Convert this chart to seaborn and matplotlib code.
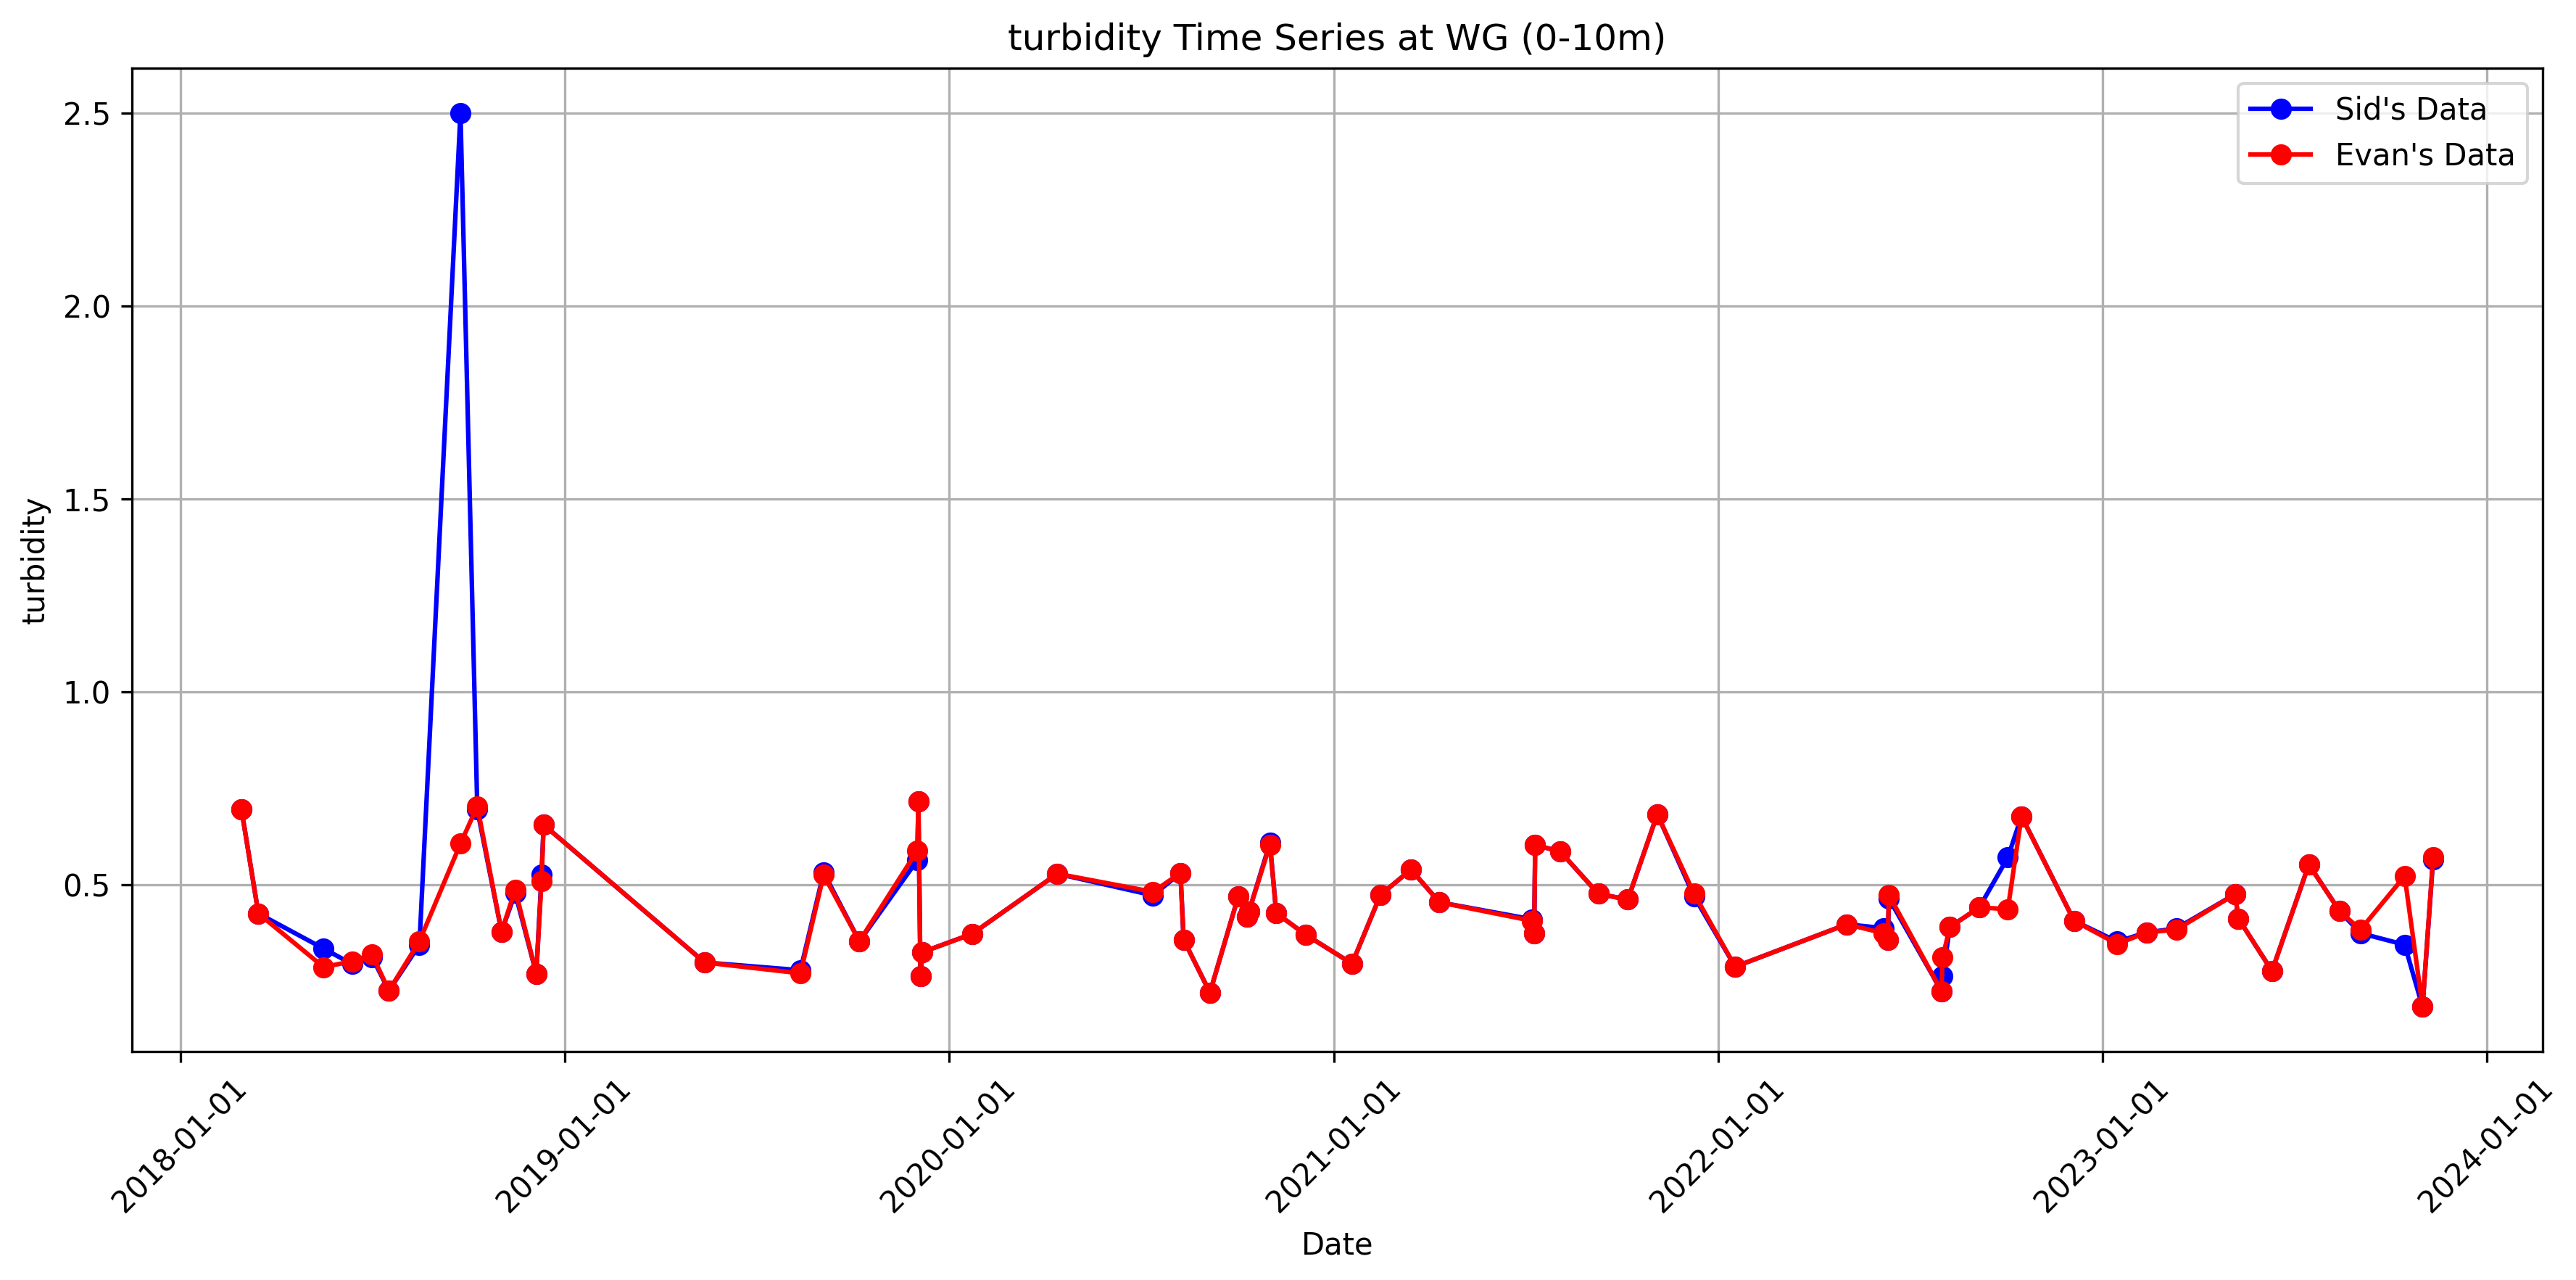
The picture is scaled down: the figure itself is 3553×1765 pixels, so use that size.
import matplotlib
matplotlib.use("Agg")
import matplotlib.pyplot as plt
import matplotlib.dates as mdates
import pandas as pd
import seaborn as sns

dates = [
    "2018-02-28", "2018-03-16", "2018-05-17", "2018-06-13", "2018-07-02",
    "2018-07-18", "2018-08-16", "2018-09-24", "2018-10-10", "2018-11-02",
    "2018-11-15", "2018-12-05", "2018-12-10", "2018-12-12", "2019-05-14",
    "2019-08-13", "2019-09-04", "2019-10-08", "2019-12-02", "2019-12-03",
    "2019-12-05", "2019-12-07", "2020-01-23", "2020-04-13", "2020-07-13",
    "2020-08-08", "2020-08-11", "2020-09-05", "2020-10-02", "2020-10-10",
    "2020-10-12", "2020-11-01", "2020-11-07", "2020-12-05", "2021-01-18",
    "2021-02-14", "2021-03-15", "2021-04-11", "2021-07-08", "2021-07-10",
    "2021-07-11", "2021-08-04", "2021-09-09", "2021-10-07", "2021-11-04",
    "2021-12-09", "2022-01-17", "2022-05-03", "2022-06-07", "2022-06-11",
    "2022-06-12", "2022-08-01", "2022-08-02", "2022-08-09", "2022-09-06",
    "2022-10-03", "2022-10-16", "2022-12-05", "2023-01-15", "2023-02-12",
    "2023-03-12", "2023-05-07", "2023-05-10", "2023-06-11", "2023-07-16",
    "2023-08-14", "2023-09-03", "2023-10-15", "2023-11-01", "2023-11-11",
]

sid_values = [
    0.694, 0.425, 0.334, 0.294, 0.312,
    0.225, 0.344, 2.500, 0.694, 0.378,
    0.478, 0.269, 0.525, 0.655, 0.298,
    0.278, 0.531, 0.353, 0.563, 0.716,
    0.262, 0.325, 0.372, 0.528, 0.472,
    0.530, 0.357, 0.220, 0.470, 0.416,
    0.430, 0.608, 0.426, 0.370, 0.295,
    0.473, 0.539, 0.454, 0.410, 0.374,
    0.603, 0.585, 0.476, 0.461, 0.682,
    0.469, 0.287, 0.397, 0.387, 0.357,
    0.464, 0.224, 0.262, 0.390, 0.441,
    0.570, 0.677, 0.406, 0.352, 0.376,
    0.386, 0.475, 0.412, 0.276, 0.552,
    0.432, 0.374, 0.344, 0.183, 0.565,
]

evan_values = [
    0.694, 0.425, 0.286, 0.301, 0.319,
    0.225, 0.353, 0.606, 0.703, 0.378,
    0.487, 0.269, 0.509, 0.655, 0.298,
    0.270, 0.525, 0.353, 0.588, 0.716,
    0.262, 0.325, 0.372, 0.528, 0.481,
    0.530, 0.357, 0.220, 0.470, 0.416,
    0.430, 0.603, 0.426, 0.370, 0.295,
    0.473, 0.539, 0.454, 0.406, 0.374,
    0.603, 0.585, 0.476, 0.461, 0.682,
    0.476, 0.287, 0.397, 0.374, 0.357,
    0.473, 0.224, 0.311, 0.390, 0.441,
    0.436, 0.677, 0.406, 0.346, 0.376,
    0.383, 0.475, 0.412, 0.276, 0.552,
    0.432, 0.383, 0.522, 0.183, 0.570,
]

title = "turbidity Time Series at WG (0-10m)"
x_label = "Date"
y_label = "turbidity"

df = pd.DataFrame({
    "Date": pd.to_datetime(dates),
    "sid": sid_values,
    "evan": evan_values,
})

W, H, DPI = 3554, 1765, 300
fig = plt.figure(figsize=(W / DPI, H / DPI), dpi=DPI)
ax = fig.add_axes([182 / W, 1 - 1450 / H, (3507 - 182) / W, (1450 - 94) / H])

line_kw = dict(marker="o", markersize=6, markeredgewidth=1, linewidth=1.5,
               estimator=None, sort=False, ax=ax)
sns.lineplot(data=df, x="Date", y="sid", color="blue", markeredgecolor="blue",
             label="Sid's Data", **line_kw)
sns.lineplot(data=df, x="Date", y="evan", color="red", markeredgecolor="red",
             label="Evan's Data", **line_kw)

ax.set_title(title, fontsize=12)
ax.set_xlabel(x_label, fontsize=10)
ax.set_ylabel(y_label, fontsize=10)
ax.grid(True, color="#b0b0b0", linewidth=0.8)
ax.set_axisbelow(True)
ax.xaxis.set_major_locator(mdates.YearLocator())
ax.xaxis.set_major_formatter(mdates.DateFormatter("%Y-%m-%d"))
ax.set_yticks([0.5, 1.0, 1.5, 2.0, 2.5])
plt.setp(ax.get_xticklabels(), rotation=45)
ax.legend(loc="upper right", fontsize=10)

fig.savefig("out.png", dpi=DPI)
